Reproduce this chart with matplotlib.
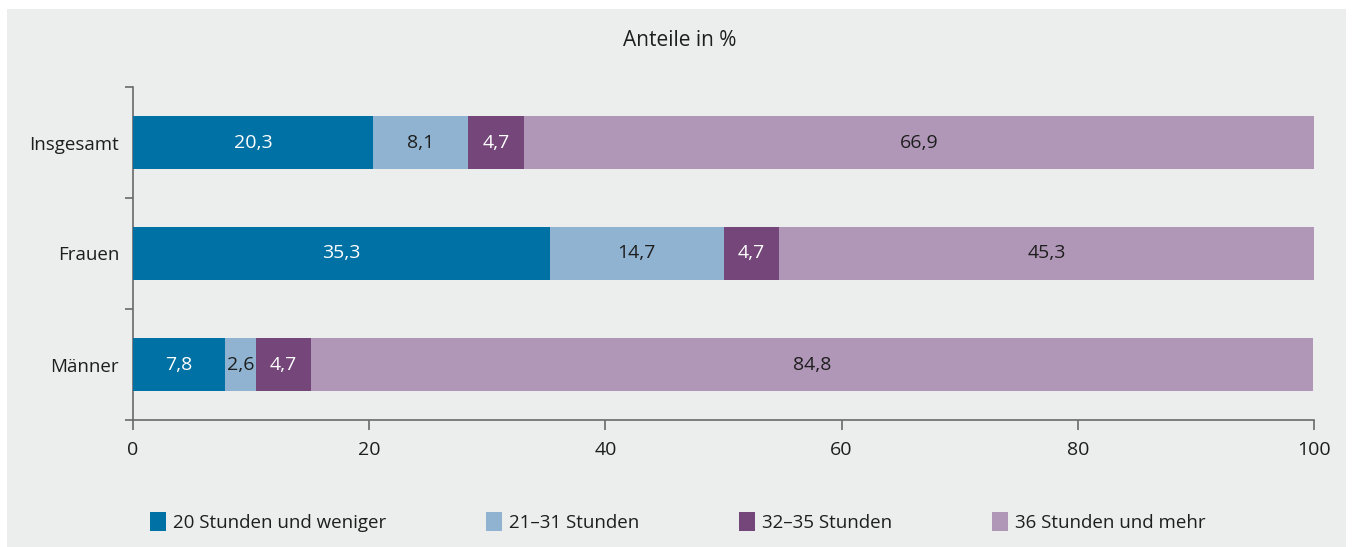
import numpy as np
import matplotlib
matplotlib.use("Agg")
import matplotlib.pyplot as plt
from matplotlib.patches import Rectangle

plt.rcParams["font.family"] = ["Open Sans", "DejaVu Sans"]

categories = ["Insgesamt", "Frauen", "Männer"]
series_names = ["20 Stunden und weniger", "21–31 Stunden", "32–35 Stunden", "36 Stunden und mehr"]
s_20 = [20.3, 35.3, 7.8]
s_21_31 = [8.1, 14.7, 2.6]
s_32_35 = [4.7, 4.7, 4.7]
s_36 = [66.9, 45.3, 84.8]
xticks = [0, 20, 40, 60, 80, 100]

COLORS = ["#0071A4", "#8FB3D0", "#744679", "#B097B8"]
LABEL_COLORS = ["white", "#1E1E1E", "white", "#1E1E1E"]
BG = "#ECEDED"; INK = "#1E1E1E"; SPINE = "#6A6A6A"

fig = plt.figure(figsize=(13.54, 5.47), dpi=100, facecolor="white")
fig.patches.append(Rectangle((7/1354, 0), (1346-7)/1354, 1-9/547, transform=fig.transFigure,
                             facecolor=BG, edgecolor="none", zorder=-10))
ax = fig.add_axes([133/1354, 1-420/547, (1314-133)/1354, (420-87)/547])
ax.set_facecolor("none")

y = np.arange(len(categories))
left = np.zeros(len(categories))
for vals, col, lc, name in zip([s_20, s_21_31, s_32_35, s_36], COLORS, LABEL_COLORS, series_names):
    vals = np.array(vals)
    ax.barh(y, vals, left=left, height=0.47, color=col, label=name, zorder=3)
    for yi, (l, v) in enumerate(zip(left, vals)):
        ax.text(l + v/2, yi, f"{v:.1f}".replace(".", ","), ha="center", va="center",
                fontsize=14, color=lc, zorder=4)
    left = left + vals

ax.set_xlim(0, 100)
ax.set_ylim(2.5, -0.5)
ax.set_xticks(xticks)
ax.set_xticklabels([str(t) for t in xticks], fontsize=14, color=INK)
ax.set_yticks([-0.5, 0.5, 1.5, 2.5])
ax.set_yticklabels([])
ax.set_yticks(y, minor=True)
ax.set_yticklabels(categories, minor=True, fontsize=13.5, color=INK)
ax.tick_params(axis="y", which="minor", length=0, pad=10)
ax.tick_params(axis="y", which="major", length=6, color=SPINE, width=1.2)
ax.tick_params(axis="x", length=7, color=SPINE, width=1.2, pad=8)
for sp in ("top", "right"):
    ax.spines[sp].set_visible(False)
for sp in ("left", "bottom"):
    ax.spines[sp].set_color(SPINE); ax.spines[sp].set_linewidth(1.2)

fig.text(680/1354, 1-40/547, "Anteile in %", ha="center", va="center", fontsize=15, color=INK)

handles, labels = ax.get_legend_handles_labels()
leg = fig.legend(handles, labels, loc="center left", bbox_to_anchor=(133/1354, 1-522/547),
                 ncol=4, frameon=False, fontsize=13.5, handlelength=0.85, handleheight=1.2,
                 handletextpad=0.4, columnspacing=5.3, labelcolor=INK)

fig.savefig("out.png", dpi=100, facecolor="white")
